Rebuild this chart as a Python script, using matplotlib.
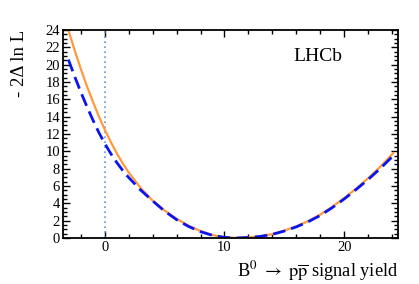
import numpy as np
import matplotlib
matplotlib.use("Agg")
import matplotlib.pyplot as plt
from matplotlib.ticker import MultipleLocator

# ============================================================
# DATA
# ============================================================
yield_orange = [-3.04, -2.5, -2, -1.5, -1, -0.5, 0, 0.5, 1, 1.5, 2, 3, 4, 5, 6, 7, 8,
                9, 10, 11, 12, 13, 14, 15, 16, 17, 18, 19, 20, 21, 22, 23, 24.1]
nll_orange = [24.0, 21.62, 19.52, 17.57, 15.77, 14.07, 12.52, 11.1, 9.8, 8.62, 7.57,
              5.77, 4.32, 3.17, 2.22, 1.42, 0.8, 0.34, 0.08, 0.0, 0.07, 0.2, 0.45,
              0.85, 1.35, 1.95, 2.7, 3.6, 4.6, 5.7, 6.9, 8.2, 9.8]

yield_blue = [-3.04, -2.5, -2, -1.5, -1, -0.5, 0, 0.5, 1, 1.5, 2, 3, 4, 5, 6, 7, 8,
              9, 10, 11, 12, 13, 14, 15, 16, 17, 18, 19, 20, 21, 22, 23, 24.1]
nll_blue = [20.6, 18.6, 16.85, 15.2, 13.65, 12.2, 10.9, 9.75, 8.72, 7.8, 6.98, 5.53,
            4.28, 3.1, 2.12, 1.33, 0.73, 0.3, 0.07, 0.0, 0.06, 0.18, 0.42, 0.8, 1.28,
            1.88, 2.6, 3.5, 4.5, 5.6, 6.75, 8.0, 9.5]

zero_line_x = 0
x_range = (-3.5, 24.5)
y_range = (0, 24)

plt.rcParams["font.family"] = ["Liberation Serif", "DejaVu Serif"]
plt.rcParams["mathtext.fontset"] = "stix"

fig = plt.figure(figsize=(4.19, 2.84), dpi=100)
ax = fig.add_axes([0.150, 0.162, 0.800, 0.732])

ax.axvline(zero_line_x, color="#5f98d8", lw=1.2, ls=(0, (1, 2)))
ax.plot(yield_orange, nll_orange, color="#ff9a3c", lw=1.6)
ax.plot(yield_blue, nll_blue, color="#0a14f0", lw=2.0, ls=(0, (4.5, 2.2)))

ax.set_xlim(*x_range)
ax.set_ylim(*y_range)

ax.xaxis.set_major_locator(MultipleLocator(10))
ax.xaxis.set_minor_locator(MultipleLocator(2))
ax.yaxis.set_major_locator(MultipleLocator(2))
ax.yaxis.set_minor_locator(MultipleLocator(0.5))
ax.tick_params(which="both", direction="in", top=True, right=True, width=1.0,
               labelsize=10.5, pad=2)
ax.tick_params(which="major", length=5)
ax.tick_params(which="minor", length=3)
for s in ax.spines.values():
    s.set_linewidth(1.3)

ax.set_ylabel("- 2Δ ln L", fontsize=13.5, loc="top")
ax.yaxis.set_label_coords(-0.103, 1.0)
ax.set_xlabel(r"B$^0$ $\rightarrow$ $\mathrm{p}\overline{\mathrm{p}}$ signal yield",
              fontsize=13.2, loc="right")
ax.xaxis.set_label_coords(1.0, -0.10)

ax.text(0.76, 0.875, "LHCb", transform=ax.transAxes, fontsize=14,
        ha="center", va="center")

fig.savefig("out.png", dpi=100)
